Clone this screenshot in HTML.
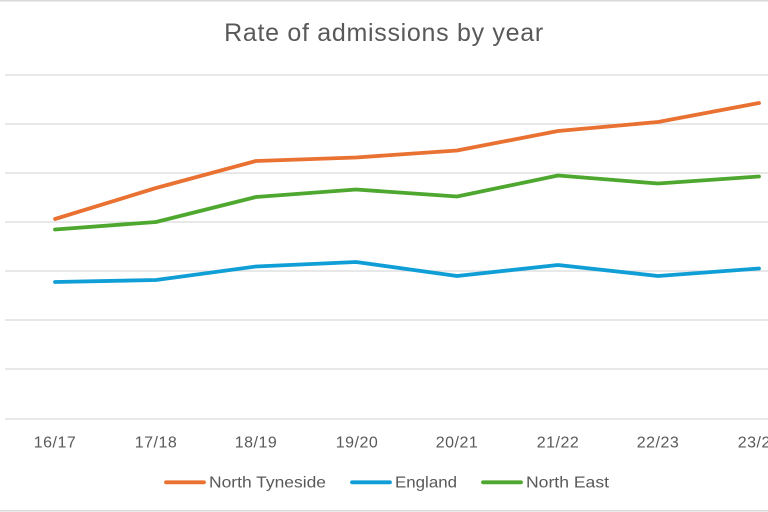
<!DOCTYPE html>
<html>
<head>
<meta charset="utf-8">
<style>
  html,body{margin:0;padding:0;background:#fff;}
  body{width:768px;height:512px;overflow:hidden;}
  svg{display:block;}
  text{font-family:"Liberation Sans",Arial,sans-serif;fill:#595959;}
</style>
</head>
<body>
<svg width="768" height="512" viewBox="0 0 768 512" xmlns="http://www.w3.org/2000/svg">
  <rect x="0" y="0" width="768" height="512" fill="#fff"/>
  <!-- chart border -->
  <line x1="0" y1="0.75" x2="768" y2="0.75" stroke="#d9d9d9" stroke-width="1.5"/>
  <line x1="0" y1="510.75" x2="768" y2="510.75" stroke="#d9d9d9" stroke-width="1.5"/>

  <!-- title -->
  <text x="384" y="41" font-size="25" text-anchor="middle" letter-spacing="0.7">Rate of admissions by year</text>

  <!-- gridlines -->
  <g stroke="#d9d9d9" stroke-width="1.2">
    <line x1="5" y1="75" x2="768" y2="75"/>
    <line x1="5" y1="124" x2="768" y2="124"/>
    <line x1="5" y1="173" x2="768" y2="173"/>
    <line x1="5" y1="222" x2="768" y2="222"/>
    <line x1="5" y1="271" x2="768" y2="271"/>
    <line x1="5" y1="320" x2="768" y2="320"/>
    <line x1="5" y1="369" x2="768" y2="369"/>
    <line x1="5" y1="419" x2="768" y2="419"/>
  </g>

  <!-- x labels -->
  <g font-size="16" text-anchor="middle" letter-spacing="0.5">
    <text x="55" y="447.5">16/17</text>
    <text x="156" y="447.5">17/18</text>
    <text x="256" y="447.5">18/19</text>
    <text x="357" y="447.5">19/20</text>
    <text x="457" y="447.5">20/21</text>
    <text x="558" y="447.5">21/22</text>
    <text x="658" y="447.5">22/23</text>
    <text x="759" y="447.5">23/24</text>
  </g>

  <!-- series -->
  <g fill="none" stroke-width="3.8" stroke-linecap="round" stroke-linejoin="round">
    <polyline stroke="#0F9ED5" points="55,282 156,280 256,266.5 356,262 457,276 558,265 658,276 759,268.5"/>
    <polyline stroke="#4EA72E" points="55,229.5 156,222 256,197 356,189.5 457,196.5 558,175.5 658,183.5 759,176.5"/>
    <polyline stroke="#E97132" points="55,219 156,188 256,161 356,157.5 457,150.5 558,131 658,122 759,103"/>
  </g>

  <!-- legend -->
  <g stroke-width="3.8" stroke-linecap="round">
    <line x1="166" y1="482.3" x2="204" y2="482.3" stroke="#E97132"/>
    <line x1="352" y1="482.3" x2="390" y2="482.3" stroke="#0F9ED5"/>
    <line x1="483" y1="482.3" x2="521" y2="482.3" stroke="#4EA72E"/>
  </g>
  <g font-size="16">
    <text x="209" y="487.7" textLength="117" lengthAdjust="spacingAndGlyphs">North Tyneside</text>
    <text x="395" y="487.7" textLength="62" lengthAdjust="spacingAndGlyphs">England</text>
    <text x="526" y="487.7" textLength="83" lengthAdjust="spacingAndGlyphs">North East</text>
  </g>
</svg>
</body>
</html>
